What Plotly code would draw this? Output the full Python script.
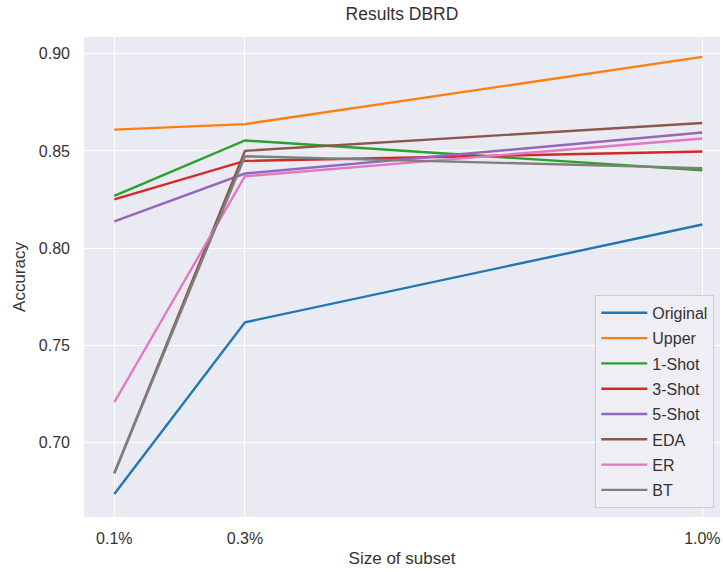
import plotly.graph_objects as go

x_vals = [0.1, 0.3, 1.0]
x_ticks = ["0.1%", "0.3%", "1.0%"]

series_names = ["Original", "Upper", "1-Shot", "3-Shot", "5-Shot", "EDA", "ER", "BT"]
original = [0.6736, 0.7619, 0.8122]
upper = [0.8610, 0.8638, 0.8984]
shot1 = [0.8269, 0.8554, 0.8401]
shot3 = [0.8251, 0.8449, 0.8497]
shot5 = [0.8138, 0.8384, 0.8595]
eda = [0.6843, 0.8501, 0.8644]
er = [0.7208, 0.8370, 0.8564]
bt = [0.6843, 0.8473, 0.8412]
series_values = [original, upper, shot1, shot3, shot5, eda, er, bt]
colors = ["#1f77b4", "#ff7f0e", "#2ca02c", "#d62728", "#9467bd", "#8c564b", "#e377c2", "#7f7f7f"]

fig = go.Figure()
for i, (name, vals) in enumerate(zip(series_names, series_values)):
    fig.add_trace(go.Scatter(
        x=x_vals, y=vals, mode="lines", name=name,
        line=dict(color=colors[i], width=2.4),
        legendgroup=name,
    ))

font_family = "Liberation Sans, Arial, sans-serif"
fig.update_layout(
    width=723, height=572,
    margin=dict(l=84, r=3, t=37, b=55),
    paper_bgcolor="white",
    plot_bgcolor="#EAEAF2",
    font=dict(family=font_family, size=16, color="#333333"),
    title=dict(text="Results DBRD", x=(84 + 720) / 2 / 723, xanchor="center",
               y=1 - 14 / 572, yanchor="middle",
               font=dict(size=17.5, color="#333333")),
    xaxis=dict(
        range=[0.0536, 1.027], tickvals=x_vals, ticktext=x_ticks,
        showgrid=True, gridcolor="white", gridwidth=1.2, zeroline=False,
        showline=False, ticks="", ticklabelstandoff=10,
        tickfont=dict(size=16),
        title=dict(text="Size of subset", font=dict(size=17), standoff=6),
    ),
    yaxis=dict(
        range=[0.6618, 0.9086], tickvals=[0.70, 0.75, 0.80, 0.85, 0.90],
        ticktext=["0.70", "0.75", "0.80", "0.85", "0.90"],
        showgrid=True, gridcolor="white", gridwidth=1.2, zeroline=False,
        showline=False, ticks="", ticklabelstandoff=13,
        tickfont=dict(size=16),
        title=dict(text="Accuracy", font=dict(size=17), standoff=8),
    ),
    legend=dict(
        x=0.991, y=0.019, xanchor="right", yanchor="bottom",
        bgcolor="rgba(238,238,244,0.85)", bordercolor="#cccccc", borderwidth=1,
        font=dict(size=16, color="#333333"),
        tracegroupgap=1.5, itemwidth=46,
    ),
    showlegend=True,
)

fig.write_html(
    "out.html",
    config={"displayModeBar": False},
    post_script="document.body.style.margin='0';document.body.style.overflow='hidden';",
)
